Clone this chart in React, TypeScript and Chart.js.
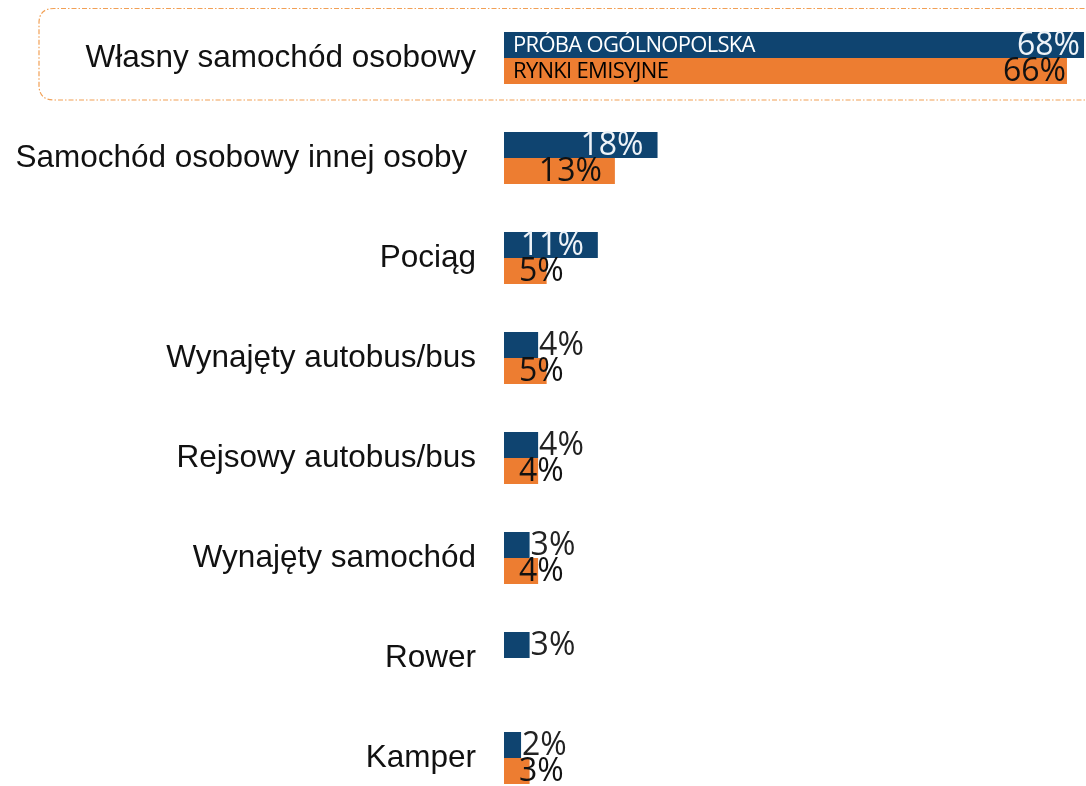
import React, { useEffect, useRef } from "react";
import { Chart, registerables } from "chart.js";

Chart.register(...registerables);

const categories = [
  "Własny samochód osobowy",
  "Samochód osobowy innej osoby ",
  "Pociąg",
  "Wynajęty autobus/bus",
  "Rejsowy autobus/bus",
  "Wynajęty samochód",
  "Rower",
  "Kamper",
];
const seriesNames = ["PRÓBA OGÓLNOPOLSKA", "RYNKI EMISYJNE"];
const nationalValues = [68, 18, 11, 4, 4, 3, 3, 2];
const emissionValues: (number | null)[] = [66, 13, 5, 5, 4, 4, null, 3];

const BLUE = "#0F4470";
const ORANGE = "#ED7D31";

const labelPlugin = {
  id: "customLabels",
  beforeDatasetsDraw(chart: any) {
    const { ctx } = chart;
    const y = chart.scales.y;
    const top = chart.chartArea.top;
    const step = y.getPixelForValue(1) - y.getPixelForValue(0);
    const bottom = top + step * 0.92;
    const left = 39;
    const right = chart.width + 30;
    const r = 15;
    ctx.save();
    ctx.strokeStyle = "#F2A055";
    ctx.lineWidth = 1.2;
    ctx.setLineDash([5, 2, 1.5, 2]);
    ctx.beginPath();
    ctx.moveTo(right, top + 0.5);
    ctx.lineTo(left + r, top + 0.5);
    ctx.quadraticCurveTo(left, top + 0.5, left, top + r);
    ctx.lineTo(left, bottom - r);
    ctx.quadraticCurveTo(left, bottom, left + r, bottom);
    ctx.lineTo(right, bottom);
    ctx.stroke();
    ctx.restore();
  },
  afterDatasetsDraw(chart: any) {
    const { ctx } = chart;
    const xScale = chart.scales.x;
    const base = xScale.getPixelForValue(0);
    ctx.save();
    ctx.textBaseline = "middle";
    chart.data.datasets.forEach((ds: any, di: number) => {
      const meta = chart.getDatasetMeta(di);
      meta.data.forEach((bar: any, i: number) => {
        const v = ds.data[i];
        if (v === null || v === undefined) return;
        const txt = v + "%";
        ctx.font = "32px 'Open Sans'";
        (ctx as any).letterSpacing = "0px";
        const yy = bar.y + 1;
        if (di === 0) {
          if (v >= 10) {
            ctx.fillStyle = "#EEF3F8";
            ctx.textAlign = "right";
            ctx.fillText(txt, bar.x - (v >= 50 ? 4 : 14), yy);
          } else {
            ctx.fillStyle = "#222222";
            ctx.textAlign = "left";
            ctx.fillText(txt, bar.x + 1, yy);
          }
        } else {
          ctx.fillStyle = "#111111";
          if (v >= 10) {
            ctx.textAlign = "right";
            ctx.fillText(txt, bar.x - 1 - (v < 50 ? 12 : 0), yy);
          } else {
            ctx.textAlign = "left";
            ctx.fillText(txt, base + 15, yy);
          }
        }
        if (i === 0) {
          ctx.font = "22px 'Open Sans'";
          (ctx as any).letterSpacing = "-0.7px";
          ctx.textAlign = "left";
          ctx.fillStyle = di === 0 ? "#FFFFFF" : "#000000";
          ctx.fillText(ds.label, base + 9, yy);
        }
      });
    });
    ctx.restore();
  },
};

export default function App() {
  const ref = useRef<HTMLCanvasElement | null>(null);
  useEffect(() => {
    if (!ref.current) return;
    const chart = new Chart(ref.current, {
      type: "bar",
      data: {
        labels: categories,
        datasets: [
          {
            label: seriesNames[0],
            data: nationalValues,
            backgroundColor: BLUE,
            categoryPercentage: 0.52,
            barPercentage: 1,
          },
          {
            label: seriesNames[1],
            data: emissionValues,
            backgroundColor: ORANGE,
            categoryPercentage: 0.52,
            barPercentage: 1,
          },
        ],
      },
      options: {
        indexAxis: "y",
        animation: false,
        responsive: false,
        maintainAspectRatio: false,
        layout: { padding: { top: 8, bottom: 2, left: 0, right: 0 } },
        plugins: { legend: { display: false }, tooltip: { enabled: false } },
        scales: {
          x: { display: false, min: 0, max: 68.23 },
          y: {
            grid: { display: false, drawTicks: false },
            border: { display: false },
            ticks: {
              padding: 28,
              color: "#111111",
              font: { family: "'Liberation Sans', Arial, sans-serif", size: 31.5 },
            },
            afterFit(scale: any) {
              scale.width = 504;
              scale.paddingTop = 0;
              scale.paddingBottom = 0;
            },
          },
        },
      },
      plugins: [labelPlugin],
    });
    return () => chart.destroy();
  }, []);
  return (
    <div style={{ position: "fixed", left: 0, top: 0, width: 1086, height: 786, overflow: "hidden", background: "#fff" }}>
      <canvas ref={ref} width={1086} height={810} style={{ position: "absolute", left: 0, top: 0, width: 1086, height: 810 }} />
    </div>
  );
}
